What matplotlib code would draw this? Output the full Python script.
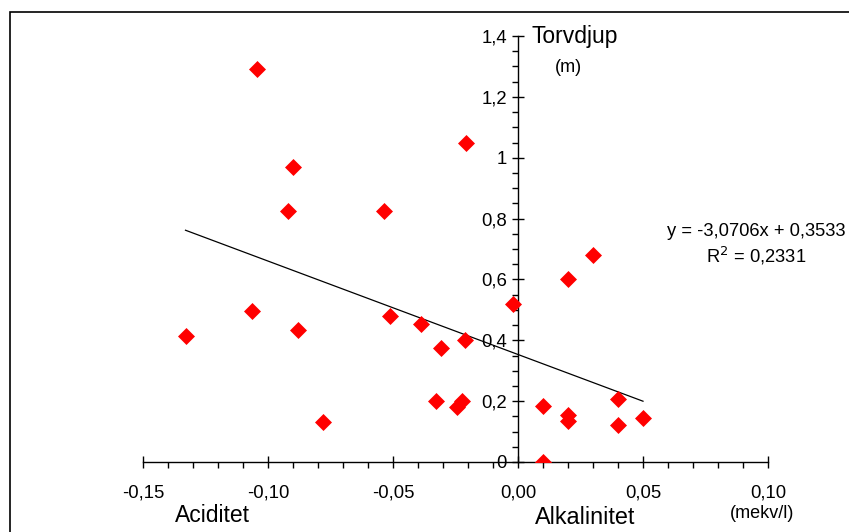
import matplotlib.pyplot as plt
from matplotlib.ticker import MultipleLocator
from matplotlib.patches import Rectangle
import numpy as np

plt.rcParams['font.family'] = ['Liberation Sans', 'DejaVu Sans']

# aciditet/alkalinitet (mekv/l) vs torvdjup (m)
alk = [-0.133, -0.1044, -0.1064, -0.090, -0.092, -0.088, -0.078, -0.0536,
       -0.0512, -0.039, -0.0308, -0.0208, -0.0212, -0.0328, -0.0246, -0.0226,
       -0.002, 0.01, 0.01, 0.02, 0.02, 0.02, 0.03, 0.04, 0.04, 0.05]
djup = [0.415, 1.29, 0.496, 0.97, 0.825, 0.435, 0.13, 0.825,
        0.48, 0.455, 0.375, 1.05, 0.40, 0.20, 0.18, 0.20,
        0.52, 0.185, 0.0, 0.155, 0.135, 0.60, 0.68, 0.207, 0.122, 0.145]

slope = -3.0706
intercept = 0.3533
r2 = 0.2331

xticks = [-0.15, -0.10, -0.05, 0.00, 0.05, 0.10]
xticklabels = ['-0,15', '-0,10', '-0,05', '0,00', '0,05', '0,10']
yticks = [0, 0.2, 0.4, 0.6, 0.8, 1.0, 1.2, 1.4]
yticklabels = ['0', '0,2', '0,4', '0,6', '0,8', '1', '1,2', '1,4']

W, H = 849, 532
fig = plt.figure(figsize=(W / 100, H / 100), dpi=100)
ax = fig.add_axes([143 / W, (H - 462) / H, 625 / W, 426 / H])

ax.scatter(alk, djup, marker='D', s=75, color='#ff0000', linewidths=0, zorder=3)

xs = np.array([min(alk), max(alk)])
ax.plot(xs, slope * xs + intercept, color='black', lw=0.9, zorder=2)

ax.set_xlim(-0.15, 0.10)
ax.set_ylim(0, 1.4)

ax.spines['left'].set_position(('data', 0))
ax.spines['bottom'].set_position(('data', 0))
ax.spines['top'].set_visible(False)
ax.spines['right'].set_visible(False)
for s in ['left', 'bottom']:
    ax.spines[s].set_linewidth(1.0)

ax.set_xticks(xticks)
ax.set_xticklabels(xticklabels)
ax.set_yticks(yticks)
ax.set_yticklabels(yticklabels)
ax.xaxis.set_minor_locator(MultipleLocator(0.01))
ax.yaxis.set_minor_locator(MultipleLocator(0.05))

ax.tick_params(axis='x', which='major', direction='inout', length=8, width=1, pad=12, labelsize=13.3)
ax.tick_params(axis='x', which='minor', direction='out', length=4.5, width=1)
ax.tick_params(axis='y', which='major', direction='inout', length=8, width=1, pad=4, labelsize=13.3)
ax.tick_params(axis='y', which='minor', direction='out', length=4, width=1)
ax.patch.set_visible(False)

def ftext(x, y, s, **kw):
    fig.text(x / W, 1 - y / H, s, va='center', **kw)

ftext(532, 36, 'Torvdjup', fontsize=16.5, ha='left')
ftext(555, 68, '(m)', fontsize=13, ha='left')
ftext(175, 516, 'Aciditet', fontsize=16.5, ha='left')
ftext(535, 517, 'Alkalinitet', fontsize=16.8, ha='left')
ftext(730, 514, '(mekv/l)', fontsize=13, ha='left')

eq = f'y = {slope:.4f}x + {intercept:.4f}'.replace('.', ',')
ftext(756, 231, eq, fontsize=13.2, ha='center')
ftext(756, 256, f'R$^2$ = {r2:.4f}'.replace('.', ','), fontsize=13.2, ha='center')

# chart area border (cut off at right and bottom in the original)
fig.add_artist(Rectangle((10 / W, -0.2), 1.2, 1.2 - 12 / H,
                         transform=fig.transFigure, fill=False,
                         edgecolor='black', lw=1.2))

fig.savefig('out.png', dpi=100)
